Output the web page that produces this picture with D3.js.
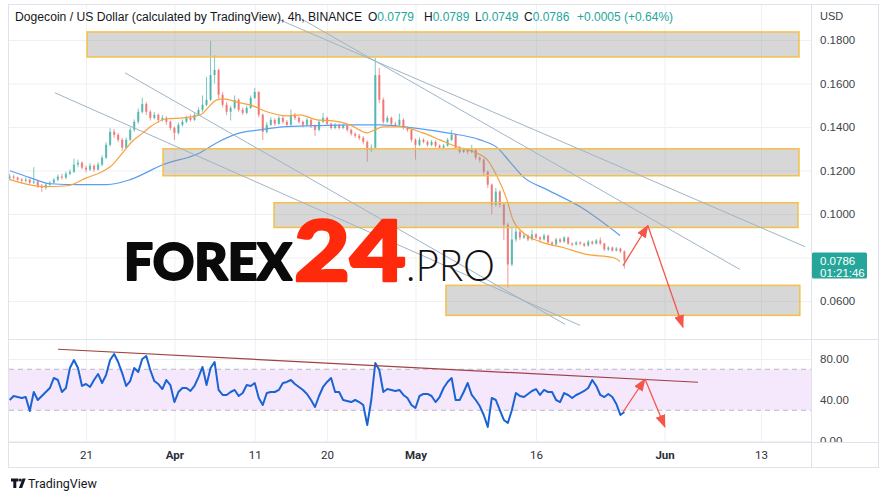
<!DOCTYPE html>
<html><head><meta charset="utf-8">
<script src="https://cdn.jsdelivr.net/npm/d3@7"></script>
<style>
body{margin:0;background:#fff;}
svg{display:block;font-family:"Liberation Sans",Arial,sans-serif;}
</style></head>
<body><svg id="c" width="887" height="499"></svg>
<script>
// ---------------- data ----------------
const candleStart = "2022-03-11T12:00";   // first 12h candle
const firstOpen = 0.1165;
const closes = [
.1172,.1167,.1158,.1153,.1158,.1144,.1149,.1130,.1121,.1135,
.1144,.1158,.1172,.1167,.1185,.1194,.1227,.1236,.1213,.1204,
.1222,.1204,.1227,.1259,.1318,.1378,.1364,.1341,.1305,.1341,
.1387,.1424,.1470,.1506,.1470,.1442,.1456,.1433,.1442,.1424,
.1396,.1373,.1410,.1424,.1442,.1433,.1456,.1479,.1502,.1525,
.1639,.1662,.1548,.1502,.1470,.1488,.1525,.1479,.1465,.1488,
.1534,.1561,.1456,.1378,.1410,.1433,.1415,.1442,.1424,.1410,
.1456,.1442,.1424,.1410,.1433,.1406,.1387,.1424,.1442,.1415,
.1396,.1410,.1396,.1406,.1387,.1369,.1360,.1350,.1332,.1295,
.1305,.1639,.1525,.1424,.1442,.1415,.1410,.1433,.1396,.1387,
.1341,.1318,.1341,.1332,.1318,.1332,.1314,.1305,.1314,.1341,
.1364,.1305,.1286,.1295,.1286,.1295,.1259,.1250,.1195,.1135,
.1043,.1103,.1043,.0951,.0768,.0883,.0919,.0892,.0901,.0883,
.0906,.0892,.0883,.0901,.0869,.0860,.0883,.0873,.0892,.0864,
.0860,.0869,.0864,.0855,.0873,.0864,.0878,.0864,.0837,.0846,
.0832,.0841,.0828,.0786];
const highs = [
.1185,.1180,.1172,.1165,.1168,.1162,.1215,.1152,.1138,.1142,
.1152,.1165,.1182,.1185,.1195,.1205,.1255,.1250,.1242,.1222,
.1235,.1228,.1238,.1270,.1330,.1395,.1390,.1372,.1350,.1352,
.1398,.1435,.1485,.1535,.1515,.1478,.1468,.1462,.1455,.1450,
.1430,.1402,.1420,.1435,.1452,.1458,.1465,.1490,.1545,.1630,
.1795,.1730,.1668,.1560,.1515,.1498,.1545,.1532,.1490,.1498,
.1545,.1580,.1565,.1462,.1422,.1445,.1440,.1452,.1450,.1432,
.1480,.1465,.1450,.1430,.1442,.1438,.1412,.1432,.1465,.1448,
.1420,.1418,.1415,.1415,.1410,.1392,.1375,.1368,.1358,.1338,
.1320,.1717,.1672,.1535,.1452,.1448,.1425,.1462,.1440,.1402,
.1392,.1348,.1352,.1348,.1338,.1340,.1338,.1320,.1322,.1350,
.1387,.1370,.1312,.1305,.1300,.1318,.1300,.1265,.1255,.1200,
.1140,.1120,.1110,.1050,.0960,.0938,.0935,.0925,.0912,.0906,
.0928,.0912,.0898,.0910,.0905,.0875,.0890,.0890,.0898,.0896,
.0870,.0876,.0875,.0868,.0880,.0878,.0885,.0892,.0868,.0852,
.0850,.0848,.0845,.0832];
const lows = [
.1155,.1158,.1148,.1140,.1145,.1135,.1138,.1120,.1102,.1112,
.1128,.1138,.1150,.1158,.1160,.1178,.1188,.1215,.1205,.1192,
.1198,.1195,.1200,.1220,.1252,.1310,.1350,.1330,.1290,.1298,
.1335,.1378,.1415,.1462,.1455,.1430,.1435,.1420,.1425,.1410,
.1385,.1340,.1365,.1402,.1418,.1425,.1428,.1450,.1470,.1495,
.1520,.1600,.1530,.1490,.1455,.1430,.1480,.1470,.1455,.1458,
.1482,.1528,.1445,.1340,.1370,.1405,.1405,.1410,.1415,.1400,
.1405,.1432,.1415,.1398,.1405,.1395,.1360,.1380,.1418,.1405,
.1388,.1390,.1388,.1390,.1378,.1360,.1350,.1340,.1320,.1240,
.1285,.1300,.1510,.1415,.1418,.1408,.1400,.1405,.1388,.1378,
.1330,.1250,.1312,.1325,.1310,.1312,.1305,.1298,.1300,.1310,
.1335,.1298,.1278,.1280,.1275,.1280,.1250,.1238,.1180,.1120,
.0998,.1035,.1030,.0880,.0662,.0760,.0872,.0880,.0885,.0875,
.0878,.0885,.0875,.0878,.0860,.0852,.0855,.0866,.0868,.0858,
.0852,.0855,.0858,.0848,.0850,.0858,.0860,.0858,.0830,.0830,
.0826,.0828,.0820,.0749];
const rsiValues = [
40.0,43.9,42.9,42.0,42.9,29.3,47.8,40.0,43.9,47.8,
51.7,61.5,59.5,47.8,51.7,71.2,79.0,71.2,53.7,55.6,
52.7,59.5,65.4,56.6,64.4,79.0,84.9,77.1,66.3,53.7,
58.5,71.2,67.3,80.0,82.9,69.3,58.5,55.6,50.7,59.5,
54.6,38.0,47.8,51.7,51.7,48.8,53.7,62.4,72.2,54.6,
71.2,77.1,49.8,44.9,44.9,47.8,49.8,43.9,46.8,54.6,
53.7,56.6,42.0,35.1,46.8,47.8,47.8,49.8,56.6,57.6,
59.5,55.6,52.7,49.8,45.9,40.0,33.2,43.9,52.7,57.6,
61.5,47.8,47.8,40.0,39.0,38.0,40.0,38.0,35.1,15.6,
40.0,76.1,69.3,47.8,50.7,49.8,48.8,49.8,44.9,42.0,
35.1,32.2,43.9,45.9,45.9,43.9,38.0,42.9,51.7,57.6,
61.5,40.0,40.0,47.8,56.6,44.9,40.0,34.1,25.4,13.7,
42.0,40.0,30.2,20.5,17.6,30.2,46.8,43.9,42.9,45.9,
48.8,50.7,44.9,49.8,47.8,47.8,40.0,38.0,46.8,44.9,
42.0,44.9,46.8,48.8,51.7,59.5,53.7,44.9,42.9,45.9,
42.9,36.1,25.4,28.3];

const emaFastDates = ["2022-03-11T13:00","2022-03-15T16:00","2022-03-18T15:00","2022-03-21T03:00","2022-03-22T18:00","2022-03-24T00:00","2022-03-25T14:00","2022-03-26T20:00","2022-03-28T02:00","2022-03-29T00:00","2022-03-31T02:00","2022-04-02T02:00","2022-04-04T05:00","2022-04-06T07:00","2022-04-07T01:00","2022-04-09T04:00","2022-04-10T10:00","2022-04-12T12:00","2022-04-15T00:00","2022-04-16T15:00","2022-04-18T18:00","2022-04-20T18:00","2022-04-22T20:00","2022-04-25T00:00","2022-04-25T17:00","2022-04-27T00:00","2022-04-29T02:00","2022-05-01T22:00","2022-05-04T01:00","2022-05-06T04:00","2022-05-08T04:00","2022-05-09T22:00","2022-05-11T04:00","2022-05-12T09:00","2022-05-13T03:00","2022-05-14T09:00","2022-05-16T12:00","2022-05-19T09:00","2022-05-22T08:00","2022-05-25T14:00","2022-05-26T11:00"];
const emaFastValues = [0.1158,0.1126,0.1130,0.1167,0.1190,0.1217,0.1282,0.1337,0.1373,0.1401,0.1438,0.1442,0.1456,0.1525,0.1529,0.1511,0.1502,0.1470,0.1451,0.1456,0.1433,0.1428,0.1410,0.1373,0.1383,0.1401,0.1401,0.1373,0.1341,0.1309,0.1286,0.1250,0.1172,0.1066,0.0974,0.0915,0.0873,0.0846,0.0814,0.0800,0.0782];
const emaSlowDates = ["2022-03-11T13:00","2022-03-14T01:00","2022-03-16T12:00","2022-03-20T06:00","2022-03-23T15:00","2022-03-26T12:00","2022-03-30T14:00","2022-04-04T05:00","2022-04-06T07:00","2022-04-09T04:00","2022-04-11T16:00","2022-04-14T12:00","2022-04-18T18:00","2022-04-22T20:00","2022-04-26T14:00","2022-04-30T17:00","2022-05-04T22:00","2022-05-09T01:00","2022-05-11T04:00","2022-05-12T18:00","2022-05-14T09:00","2022-05-17T09:00","2022-05-21T11:00","2022-05-26T11:00"];
const emaSlowValues = [0.1199,0.1167,0.1139,0.1135,0.1135,0.1158,0.1227,0.1282,0.1328,0.1373,0.1387,0.1401,0.1406,0.1410,0.1410,0.1396,0.1373,0.1341,0.1305,0.1240,0.1172,0.1112,0.1034,0.0901];

const zoneFrom = ["2022-03-21T03:00","2022-03-30T14:00","2022-04-13T09:30","2022-05-04T19:00"];
const zoneTo = ["2022-06-17T17:30","2022-06-17T17:30","2022-06-17T14:30","2022-06-17T20:00"];
const zoneTop = [0.1837,0.1300,0.1052,0.0672];
const zoneBottom = [0.1722,0.1176,0.0938,0.0534];

const trendFrom = ["2022-03-25T20:30","2022-03-17T03:20","2022-04-13T21:20","2022-04-16T15:00"];
const trendFromPrice = [0.1649,0.1557,0.1896,0.1901];
const trendTo = ["2022-05-19T14:40","2022-05-21T11:20","2022-06-18T11:20","2022-06-10T09:00"];
const trendToPrice = [0.0493,0.0488,0.0850,0.0745];

const arrowDates = ["2022-05-26T20:00","2022-05-29T22:00","2022-06-03T07:00"];
const arrowPrices = [0.0763,0.0947,0.0479];
const rsiTrendDates = ["2022-03-17T12:30","2022-06-05T04:00"];
const rsiTrendValues = [89.5,57.3];
const rsiArrowDates = ["2022-05-26T20:00","2022-05-29T13:30","2022-06-01T01:00"];
const rsiArrowValues = [28.3,60.5,13.7];

const priceGridTicks = [0.18,0.16,0.14,0.12,0.10,0.08,0.06];
const priceTicks = [0.18,0.16,0.14,0.12,0.10,0.06];      // 0.0800 is hidden by the last-price label
const priceTickLabels = ["0.1800","0.1600","0.1400","0.1200","0.1000","0.0600"];
const rsiTicks = [80,40,0];
const rsiTickLabels = ["80.00","40.00","0.00"];
const rsiBand = [70,30];
const timeTicks = ["2022-03-21T00:00","2022-04-01T00:00","2022-04-11T00:00","2022-04-20T00:00","2022-05-01T00:00","2022-05-16T00:00","2022-06-01T00:00","2022-06-13T00:00"];
const timeTickLabels = ["21","Apr","11","20","May","16","Jun","13"];
const timeTickMonth = [false,true,false,false,true,false,true,false];

const headerTitle = "Dogecoin / US Dollar (calculated by TradingView), 4h, BINANCE";
const ohlcLabels = ["O","H","L","C"];
const ohlcValues = ["0.0779","0.0789","0.0749","0.0786"];
const changeText = "+0.0005 (+0.64%)";
const lastPriceText = "0.0786";
const countdownText = "01:21:46";

// ---------------- setup ----------------
const parse = s => new Date(s + ":00Z");
const H12 = 12*3600*1000;
const t0 = parse(candleStart);
const candles = closes.map((c,i)=>({t:new Date(+t0+i*H12), o:i?closes[i-1]:firstOpen, h:highs[i], l:lows[i], c}));

const L=9, R=811, PT=5, PB=339, RT=339, RB=442, TB=467, AXR=878;
const x = d3.scaleUtc().domain([parse("2022-03-21T00:00"), parse("2022-06-13T00:00")]).range([86,761]);
const y = d3.scaleLinear().domain([0.06,0.18]).range([301,40]);
const yr = d3.scaleLinear().domain([0,80]).range([441,359]);

const svg = d3.select("#c");
const defs = svg.append("defs");
defs.append("clipPath").attr("id","cp").append("rect").attr("x",L).attr("y",PT).attr("width",R-L).attr("height",PB-PT);
defs.append("clipPath").attr("id","cr").append("rect").attr("x",L).attr("y",RT).attr("width",R-L).attr("height",RB-RT);
defs.append("clipPath").attr("id","cra").append("rect").attr("x",R).attr("y",RT).attr("width",AXR-R).attr("height",RB-RT);
const red = "#f5564a";
defs.append("marker").attr("id","ah").attr("markerUnits","userSpaceOnUse")
  .attr("markerWidth",14).attr("markerHeight",12).attr("refX",12).attr("refY",5)
  .attr("orient","auto").append("path").attr("d","M0,0 L13,5 L0,10 Z").attr("fill",red);

// grid
const gridC = "#eef0f4";
const gGrid = svg.append("g");
const tDates = timeTicks.map(parse);
gGrid.append("g").attr("transform",`translate(0,${RB})`)
  .call(d3.axisBottom(x).tickValues(tDates).tickSize(-(RB-PT)).tickFormat(""))
  .call(g=>{g.select(".domain").remove(); g.selectAll("line").attr("stroke",gridC);});
gGrid.append("g").attr("transform",`translate(${R},0)`)
  .call(d3.axisLeft(y).tickValues(priceGridTicks).tickSize(R-L).tickFormat(""))
  .call(g=>{g.select(".domain").remove(); g.selectAll("line").attr("stroke",gridC);});
gGrid.append("g").attr("transform",`translate(${R},0)`)
  .call(d3.axisLeft(yr).tickValues(rsiTicks).tickSize(R-L).tickFormat(""))
  .call(g=>{g.select(".domain").remove(); g.selectAll("line").attr("stroke",gridC);});

// ---------------- price pane ----------------
const gp = svg.append("g").attr("clip-path","url(#cp)");
const cw = x(new Date(+t0+H12)) - x(t0);
const bw = cw*0.55;
const up="#26a69a", dn="#ef5350";
gp.append("g").attr("opacity",0.6).selectAll("line").data(candles).join("line")
  .attr("x1",d=>x(d.t)).attr("x2",d=>x(d.t)).attr("y1",d=>y(d.h)).attr("y2",d=>y(d.l))
  .attr("stroke",d=>d.c>=d.o?up:dn).attr("stroke-width",1);
gp.append("g").attr("opacity",0.6).selectAll("rect").data(candles).join("rect")
  .attr("x",d=>x(d.t)-bw/2).attr("width",bw)
  .attr("y",d=>y(Math.max(d.o,d.c))).attr("height",d=>Math.max(1,Math.abs(y(d.o)-y(d.c))))
  .attr("fill",d=>d.c>=d.o?up:dn);

const maLine = d3.line().x(d=>x(d[0])).y(d=>y(d[1])).curve(d3.curveMonotoneX);
gp.append("path").attr("d",maLine(emaSlowDates.map((d,i)=>[parse(d),emaSlowValues[i]])))
  .attr("fill","none").attr("stroke","#5a9ef2").attr("stroke-width",1.2);
gp.append("path").attr("d",maLine(emaFastDates.map((d,i)=>[parse(d),emaFastValues[i]])))
  .attr("fill","none").attr("stroke","#f9a23c").attr("stroke-width",1.2);

gp.append("g").selectAll("rect").data(zoneFrom).join("rect")
  .attr("x",(d,i)=>x(parse(d))).attr("width",(d,i)=>x(parse(zoneTo[i]))-x(parse(d)))
  .attr("y",(d,i)=>y(zoneTop[i])).attr("height",(d,i)=>y(zoneBottom[i])-y(zoneTop[i]))
  .attr("fill","rgba(150,150,150,0.38)").attr("stroke","#f4c04a").attr("stroke-width",1.5);

gp.append("g").selectAll("line").data(trendFrom).join("line")
  .attr("x1",(d,i)=>x(parse(d))).attr("y1",(d,i)=>y(trendFromPrice[i]))
  .attr("x2",(d,i)=>x(parse(trendTo[i]))).attr("y2",(d,i)=>y(trendToPrice[i]))
  .attr("stroke","#9fb4c6").attr("stroke-width",1);

for(let k=0;k<2;k++){
  gp.append("line").attr("x1",x(parse(arrowDates[k]))).attr("y1",y(arrowPrices[k]))
    .attr("x2",x(parse(arrowDates[k+1]))).attr("y2",y(arrowPrices[k+1]))
    .attr("stroke",red).attr("stroke-width",1.3).attr("marker-end","url(#ah)");
}

// ---------------- RSI pane ----------------
const gr = svg.append("g").attr("clip-path","url(#cr)");
gr.append("rect").attr("x",L).attr("width",R-L).attr("y",yr(rsiBand[0])).attr("height",yr(rsiBand[1])-yr(rsiBand[0]))
  .attr("fill","#f5e8fd");
gr.selectAll("line.band").data(rsiBand).join("line").attr("class","band")
  .attr("x1",L).attr("x2",R).attr("y1",d=>yr(d)).attr("y2",d=>yr(d))
  .attr("stroke","#b8b8c0").attr("stroke-dasharray","5,4").attr("stroke-width",1);
gr.append("path").attr("d",d3.line().x(d=>x(d.t)).y((d,i)=>yr(rsiValues[i]))(candles))
  .attr("fill","none").attr("stroke","#1a63d4").attr("stroke-width",2).attr("stroke-linejoin","round");
gr.append("line").attr("x1",x(parse(rsiTrendDates[0]))).attr("y1",yr(rsiTrendValues[0]))
  .attr("x2",x(parse(rsiTrendDates[1]))).attr("y2",yr(rsiTrendValues[1]))
  .attr("stroke","#a04242").attr("stroke-width",1.2);
for(let k=0;k<2;k++){
  gr.append("line").attr("x1",x(parse(rsiArrowDates[k]))).attr("y1",yr(rsiArrowValues[k]))
    .attr("x2",x(parse(rsiArrowDates[k+1]))).attr("y2",yr(rsiArrowValues[k+1]))
    .attr("stroke",red).attr("stroke-width",1.3).attr("marker-end","url(#ah)");
}

// ---------------- frame ----------------
const frame = svg.append("g").attr("fill","none").attr("stroke","#e0e3eb").attr("stroke-width",1);
frame.append("rect").attr("x",L-0.5).attr("y",PT-0.5).attr("width",AXR-L+1).attr("height",TB-PT+1);
frame.append("line").attr("x1",R+0.5).attr("x2",R+0.5).attr("y1",PT).attr("y2",TB);
frame.append("line").attr("x1",L).attr("x2",AXR).attr("y1",PB+0.5).attr("y2",PB+0.5);
frame.append("line").attr("x1",L).attr("x2",AXR).attr("y1",RB+0.5).attr("y2",RB+0.5);

// ---------------- axes ----------------
const axText = "#3c3f47";
svg.append("g").attr("transform",`translate(${R},0)`)
  .call(d3.axisRight(y).tickValues(priceTicks).tickSize(0).tickPadding(9).tickFormat((d,i)=>priceTickLabels[i]))
  .call(g=>{g.select(".domain").remove(); g.selectAll("text").attr("fill",axText).attr("font-size",11.5).attr("font-family","Liberation Sans, Arial, sans-serif");});
svg.append("g").attr("clip-path","url(#cra)").append("g").attr("transform",`translate(${R},0)`)
  .call(d3.axisRight(yr).tickValues(rsiTicks).tickSize(0).tickPadding(9).tickFormat((d,i)=>rsiTickLabels[i]))
  .call(g=>{g.select(".domain").remove(); g.selectAll("text").attr("fill",axText).attr("font-size",11.5).attr("font-family","Liberation Sans, Arial, sans-serif");});
svg.append("g").attr("transform",`translate(0,${RB})`)
  .call(d3.axisBottom(x).tickValues(tDates).tickSize(0).tickPadding(9).tickFormat((d,i)=>timeTickLabels[i]))
  .call(g=>{g.select(".domain").remove(); g.selectAll("text").attr("fill","#2a2e39").attr("font-size",11.5)
    .attr("font-family","Liberation Sans Narrow, Roboto, sans-serif")
    .attr("font-weight",(d,i)=>timeTickMonth[i]?"bold":"normal");});
svg.append("text").attr("x",820).attr("y",20).attr("font-size",11).attr("fill",axText).text("USD");

// current price label
const last = closes[closes.length-1];
const yl = y(last);
svg.append("rect").attr("x",R+1).attr("y",yl-8).attr("width",55).attr("height",26).attr("rx",1.5).attr("fill","#26a69a");
svg.append("text").attr("x",820).attr("y",yl+4).attr("font-size",11.5).attr("fill","#fff").text(lastPriceText);
svg.append("text").attr("x",820).attr("y",yl+16.5).attr("font-size",11.5).attr("fill","#fff").text(countdownText);

// ---------------- header ----------------
const hdr = svg.append("g").attr("font-size",12);
hdr.append("text").attr("x",15).attr("y",21).attr("fill","#131722").attr("textLength",347).attr("lengthAdjust","spacingAndGlyphs").text(headerTitle);
const ohlcX = [368,424,475,524];
ohlcLabels.forEach((lab,i)=>{
  const t = hdr.append("text").attr("x",ohlcX[i]).attr("y",21);
  t.append("tspan").attr("fill","#131722").text(lab);
  t.append("tspan").attr("fill","#26a69a").text(ohlcValues[i]);
});
hdr.append("text").attr("x",577).attr("y",21).attr("fill","#26a69a").text(changeText);

// ---------------- watermark logo ----------------
const lg = svg.append("g").attr("font-family","Lato, 'Open Sans', sans-serif").attr("stroke-linejoin","round");
lg.append("text").attr("x",124).attr("y",279.5).attr("font-size",51).attr("font-weight",900).attr("fill","#0a0a0a")
  .attr("stroke","#0a0a0a").attr("stroke-width",2)
  .attr("textLength",168).attr("lengthAdjust","spacingAndGlyphs").text("FOREX");
lg.append("text").attr("x",294).attr("y",280.5).attr("font-size",83).attr("font-weight",900).attr("fill","#ff2a0c")
  .attr("stroke","#ff2a0c").attr("stroke-width",2.6)
  .attr("textLength",112).attr("lengthAdjust","spacingAndGlyphs").text("24");
lg.append("text").attr("x",406).attr("y",281).attr("font-size",43).attr("font-weight",300).attr("fill","#111")
  .attr("textLength",89).attr("lengthAdjust","spacingAndGlyphs").text(".PRO");

// ---------------- TradingView footer ----------------
const ft = svg.append("g").attr("fill","#131722");
ft.append("path").attr("d","M11,478.5h7.5v3h-2.2v6.5h-3v-6.5h-2.3z");
ft.append("circle").attr("cx",20.3).attr("cy",480).attr("r",1.5);
ft.append("path").attr("d","M22.5,478.5h3.2l-3.6,9.5h-3.2z");
ft.append("text").attr("x",28).attr("y",487.5).attr("font-size",12.5).attr("font-family","Roboto, Liberation Sans, sans-serif").text("TradingView");
</script></body></html>
